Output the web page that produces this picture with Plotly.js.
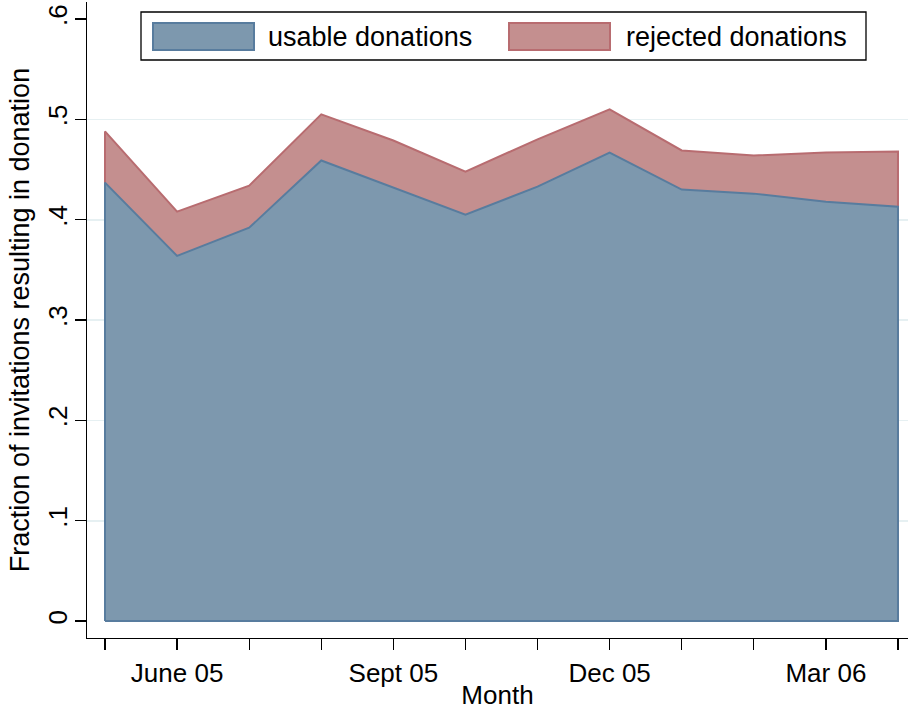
<!DOCTYPE html>
<html>
<head>
<meta charset="utf-8">
<script src="https://cdn.plot.ly/plotly-3.0.1.min.js"></script>
<style>html,body{margin:0;padding:0;background:#fff;}#chart{width:908px;height:710px;}</style>
</head>
<body>
<div id="chart"></div>
<script>
// ---- data ----
const months = ['May 05','June 05','July 05','Aug 05','Sept 05','Oct 05','Nov 05','Dec 05','Jan 06','Feb 06','Mar 06','Apr 06'];
const monthTickText = ['', 'June 05', '', '', 'Sept 05', '', '', 'Dec 05', '', '', 'Mar 06', ''];
const usable   = [0.437, 0.364, 0.392, 0.459, 0.432, 0.405, 0.433, 0.467, 0.430, 0.426, 0.418, 0.413];
const rejected = [0.051, 0.044, 0.042, 0.046, 0.047, 0.043, 0.047, 0.043, 0.039, 0.038, 0.049, 0.055];
const yTickVals = [0, 0.1, 0.2, 0.3, 0.4, 0.5, 0.6];
const yTickText = ['0', '.1', '.2', '.3', '.4', '.5', '.6'];
const gridVals  = [0.1, 0.2, 0.3, 0.4, 0.5];
const seriesNames = ['usable donations', 'rejected donations'];

// ---- styles ----
const FONT = '"Liberation Sans", Arial, Helvetica, sans-serif';
const blueFill = 'rgb(125,152,174)', blueLine = 'rgb(88,124,158)';
const redFill = 'rgb(196,143,143)', redLine = 'rgb(184,108,112)';

const total = usable.map((u, i) => u + rejected[i]);
const first = months[0], last = months[months.length - 1];

const traceRejected = {
  type: 'scatter', mode: 'lines', name: seriesNames[1], showlegend: false,
  x: [first, ...months, last, first],
  y: [0, ...total, 0, 0],
  fill: 'toself', fillcolor: redFill,
  line: {color: redLine, width: 2, shape: 'linear'},
  hoverinfo: 'skip'
};
const traceUsable = {
  type: 'scatter', mode: 'lines', name: seriesNames[0], showlegend: false,
  x: [first, ...months, last, first],
  y: [0, ...usable, 0, 0],
  fill: 'toself', fillcolor: blueFill,
  line: {color: blueLine, width: 2, shape: 'linear'},
  hoverinfo: 'skip'
};

// plot area pixel geometry (for legend placement)
const L = 87, R = 0, T = 2, B = 72, W = 908, H = 710;
const pw = W - L - R, ph = H - T - B;
const px = v => (v - L) / pw;
const py = v => (H - B - v) / ph;

const yRange = [-0.0169, 0.617];

const layout = {
  width: W, height: H,
  margin: {l: L, r: R, t: T, b: B, pad: 0},
  paper_bgcolor: '#fff', plot_bgcolor: '#fff',
  font: {family: FONT, size: 26, color: '#000'},
  showlegend: false,
  xaxis: {
    type: 'category',
    range: [-0.2497, 11.139],
    tickvals: months, ticktext: monthTickText,
    ticks: 'outside', ticklen: 11, tickwidth: 1.3, tickcolor: '#000',
    showline: true, linecolor: '#000', linewidth: 1.3,
    showgrid: false, zeroline: false,
    tickfont: {size: 26},
    title: {text: 'Month', font: {size: 26}, standoff: 0}
  },
  yaxis: {
    range: yRange,
    tickvals: yTickVals, ticktext: yTickText,
    tickangle: -90,
    ticklabelstandoff: -3,
    ticks: 'outside', ticklen: 11, tickwidth: 1.3, tickcolor: '#000',
    showline: true, linecolor: '#000', linewidth: 1.3,
    showgrid: false, zeroline: false,
    tickfont: {size: 26},
    title: {text: 'Fraction of invitations resulting in donation', font: {size: 27}, standoff: 5}
  },
  yaxis2: {
    overlaying: 'y', range: yRange,
    tickvals: gridVals, showticklabels: false, ticks: '',
    showgrid: true, gridcolor: 'rgb(230,240,242)', gridwidth: 1.6,
    showline: false, zeroline: false
  },
  shapes: [
    {type: 'rect', xref: 'paper', yref: 'paper', x0: px(141), x1: px(866), y0: py(60), y1: py(12),
     line: {color: '#000', width: 1.3}, fillcolor: '#fff', layer: 'above'},
    {type: 'rect', xref: 'paper', yref: 'paper', x0: px(153), x1: px(254), y0: py(50), y1: py(23),
     line: {color: blueLine, width: 2}, fillcolor: blueFill, layer: 'above'},
    {type: 'rect', xref: 'paper', yref: 'paper', x0: px(509), x1: px(610), y0: py(50), y1: py(23),
     line: {color: redLine, width: 2}, fillcolor: redFill, layer: 'above'}
  ],
  annotations: [
    {xref: 'paper', yref: 'paper', x: px(266), y: py(37), xanchor: 'left', yanchor: 'middle',
     text: seriesNames[0], showarrow: false, font: {size: 27}},
    {xref: 'paper', yref: 'paper', x: px(624), y: py(37), xanchor: 'left', yanchor: 'middle',
     text: seriesNames[1], showarrow: false, font: {size: 27}}
  ]
};

const gridTrace = {type: 'scatter', x: [first], y: [0], yaxis: 'y2', mode: 'markers',
  marker: {opacity: 0}, showlegend: false, hoverinfo: 'skip'};

Plotly.newPlot('chart', [gridTrace, traceRejected, traceUsable], layout, {displayModeBar: false, staticPlot: true});
</script>
</body>
</html>
